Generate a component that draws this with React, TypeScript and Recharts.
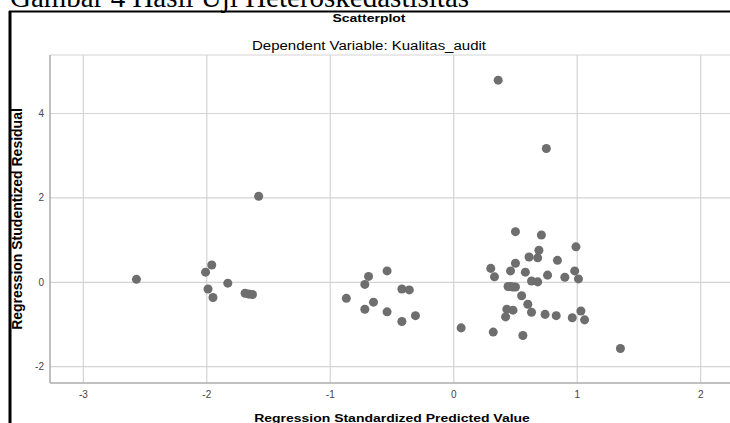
import React from 'react';
import { ScatterChart, Scatter, XAxis, YAxis, ZAxis, CartesianGrid } from 'recharts';

// Regression standardized predicted value (x) and studentized residual (y)
const predicted = [
  -2.57, -1.96, -2.01, -1.83, -1.99, -1.95, -1.58, -1.69, -1.66, -1.63,
  -0.87, -0.72, -0.69, -0.54, -0.72, -0.65, -0.54, -0.42, -0.36, -0.42, -0.31,
  0.50, 0.71, 0.99, 0.69, 0.61, 0.68, 0.84, 0.50, 0.30, 0.46, 0.58, 0.98,
  0.76, 0.33, 0.90, 1.01, 0.63, 0.68, 0.44, 0.46, 0.48, 0.50,
  0.55, 0.60, 0.43, 0.48, 0.63, 0.42, 0.74, 0.83, 0.96, 1.03, 1.06,
  0.06, 0.32, 0.56, 1.35, 0.36, 0.75,
];
const residual = [
  0.07, 0.41, 0.24, -0.02, -0.16, -0.36, 2.04, -0.26, -0.28, -0.29,
  -0.38, -0.05, 0.14, 0.27, -0.64, -0.47, -0.70, -0.16, -0.18, -0.93, -0.79,
  1.20, 1.12, 0.84, 0.76, 0.60, 0.58, 0.52, 0.45, 0.33, 0.27, 0.24, 0.27,
  0.17, 0.13, 0.12, 0.08, 0.03, 0.01, -0.10, -0.10, -0.11, -0.11,
  -0.32, -0.52, -0.64, -0.66, -0.71, -0.82, -0.76, -0.79, -0.84, -0.68, -0.89,
  -1.08, -1.18, -1.26, -1.57, 4.79, 3.17,
];

const xTicks = [-3, -2, -1, 0, 1, 2];
const yTicks = [-2, 0, 2, 4];

const points = predicted.map((x, i) => ({ x, y: residual[i] }));

const sans = '"Liberation Sans", Arial, sans-serif';

// the source image is a little squashed vertically, so horizontal texts get scaleY
const squash = (x: number, y: number) => `translate(${x},${y}) scale(1,0.8)`;

export default function App() {
  return (
    <div style={{ position: 'fixed', left: 0, top: 0, width: 730, height: 423, overflow: 'hidden', background: '#fff', fontFamily: sans }}>
      <ScatterChart width={734} height={423} margin={{ top: 55, right: 0, bottom: 0, left: 0 }}>
        <CartesianGrid stroke="#d4d4d4" strokeWidth={1.2} />
        <XAxis
          type="number"
          dataKey="x"
          domain={[-3.27, 2.27]}
          ticks={xTicks}
          height={40}
          stroke="#999"
          tickLine={false}
          tickSize={6}
          tickMargin={2}
          tick={{ fontSize: 10, fill: '#444' }}
          allowDataOverflow
        />
        <YAxis
          type="number"
          dataKey="y"
          domain={[-2.386, 5.386]}
          ticks={yTicks}
          width={50}
          stroke="#999"
          tickLine={false}
          tickSize={6}
          tickMargin={0}
          tick={{ fontSize: 10, fill: '#444' }}
          allowDataOverflow
          label={{ value: 'Regression Studentized Residual', angle: -90, position: 'insideLeft', offset: 17, style: { textAnchor: 'middle', fontSize: 14, fontWeight: 'bold', fill: '#000' } }}
        />
        <ZAxis range={[34, 34]} />
        <Scatter data={points} fill="#6e6e6e" shape="circle" isAnimationActive={false} />
      </ScatterChart>

      <svg width={730} height={423} style={{ position: 'absolute', left: 0, top: 0, pointerEvents: 'none' }}>
        <text x={10} y={7} fontFamily='"Liberation Serif", "Times New Roman", serif' fontSize={29} fill="#000">
          Gambar 4 Hasil Uji Heteroskedastisitas
        </text>
        <line x1={10} y1={11} x2={10} y2={423} stroke="#000" strokeWidth={3} />
        <line x1={9} y1={11.5} x2={730} y2={11.5} stroke="#000" strokeWidth={2} />
        <text transform={squash(369, 21.5)} textAnchor="middle" fontFamily={sans} fontSize={14} fontWeight="bold" fill="#000">
          Scatterplot
        </text>
        <text transform={squash(369, 49.5)} textAnchor="middle" fontFamily={sans} fontSize={15} fill="#000">
          Dependent Variable: Kualitas_audit
        </text>
        <text transform={squash(392, 422)} textAnchor="middle" fontFamily={sans} fontSize={14} fontWeight="bold" fill="#000">
          Regression Standardized Predicted Value
        </text>
      </svg>
    </div>
  );
}
